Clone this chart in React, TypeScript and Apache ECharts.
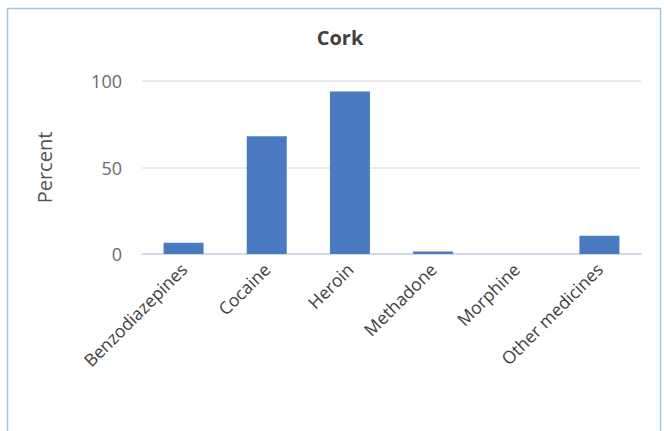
import React, { useEffect, useRef } from "react";
import * as echarts from "echarts";

const categories = ["Benzodiazepines", "Cocaine", "Heroin", "Methadone", "Morphine", "Other medicines"];
const values = [6.5, 68, 94, 1.5, 0, 10.5];
const yTicks = { min: 0, max: 100, interval: 50 };
const title = "Cork";
const yName = "Percent";

export default function App() {
  const ref = useRef<HTMLDivElement>(null);
  useEffect(() => {
    const chart = echarts.init(ref.current!, null, { renderer: "svg" });
    const font = "Open Sans, Noto Sans, sans-serif";
    chart.setOption({
      animation: false,
      backgroundColor: "#ffffff",
      title: {
        text: title,
        left: 335,
        textAlign: "center",
        top: 22,
        textStyle: { fontFamily: font, fontSize: 20, fontWeight: "bold", color: "#404040" },
      },
      graphic: [
        {
          type: "rect",
          shape: { x: 7.5, y: 8.5, width: 653, height: 440 },
          style: { fill: "none", stroke: "#a6c3e3", lineWidth: 1.5 },
          silent: true,
        },
      ],
      grid: { left: 142, right: 23, top: 81, bottom: 177, containLabel: false },
      xAxis: {
        type: "category",
        data: categories,
        axisLine: { show: true, lineStyle: { color: "#c9d5ea", width: 1.5 } },
        axisTick: { show: false },
        axisLabel: {
          rotate: 45,
          interval: 0,
          margin: 12,
          fontFamily: font,
          fontSize: 17.5,
          color: "#404040",
        },
      },
      yAxis: {
        type: "value",
        min: yTicks.min,
        max: yTicks.max,
        interval: yTicks.interval,
        name: yName,
        nameLocation: "middle",
        nameGap: 88,
        nameRotate: 90,
        nameTextStyle: { fontFamily: font, fontSize: 20, fontWeight: "normal", color: "#555555" },
        axisLine: { show: false },
        axisTick: { show: false },
        axisLabel: { fontFamily: font, fontSize: 18, color: "#6b6b6b", margin: 20 },
        splitLine: { lineStyle: { color: "#e3e3e3", width: 1.5 } },
      },
      series: [
        {
          type: "bar",
          data: values,
          barWidth: 40,
          itemStyle: { color: "#4a7abf" },
        },
      ],
    });
    return () => chart.dispose();
  }, []);
  return (
    <div
      ref={ref}
      style={{ position: "absolute", left: 0, top: 0, width: 664, height: 431 }}
    />
  );
}
